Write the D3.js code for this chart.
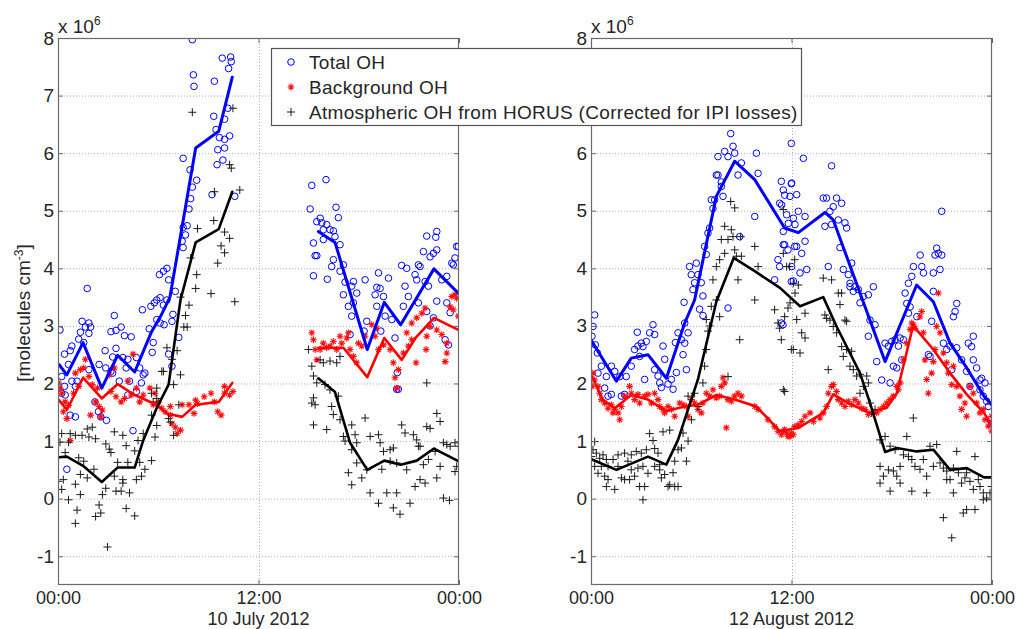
<!DOCTYPE html>
<html>
<head>
<meta charset="utf-8">
<script src="https://cdn.jsdelivr.net/npm/d3@7"></script>
<style>
  html, body { margin: 0; padding: 0; background: #fff; }
  svg { display: block; font-family: "Liberation Sans", Arial, sans-serif; }
</style>
</head>
<body>
<svg id="chart" width="1019" height="629"></svg>
<script>
// ---- Data (hours since local midnight, OH in 10^6 molecules cm^-3) ----

// 10 July 2012
const julyTotalPts = [
  [8.04,7.97],[9.83,7.65],[10.33,7.67],[10.37,7.59],[10.21,7.47],[8.10,7.36],[8.14,7.16],[9.36,7.25],[10.17,6.78],
  [9.32,6.64],[9.97,6.59],[9.46,6.41],[9.66,6.27],[9.97,6.24],[10.27,6.30],[9.56,6.06],[9.87,5.88],[9.52,5.80],[9.97,6.09],
  [9.22,5.28],[10.58,5.25],[7.49,5.91],[7.90,5.71],[8.30,5.53],[8.04,5.41],[7.94,5.21],[7.84,5.03],[7.49,4.71],[7.73,4.74],
  [7.63,4.58],[7.43,4.47],[7.49,4.36],[6.52,4.00],[6.31,3.95],[6.07,3.89],[6.62,3.80],[5.91,3.45],[5.77,3.40],[6.11,3.49],
  [5.56,3.34],[6.52,3.45],[6.31,3.36],[5.05,3.28],[7.02,3.60],[6.88,3.20],[6.82,3.08],[5.91,3.11],[6.11,3.05],[6.35,3.02],
  [5.46,2.95],[5.70,2.71],[5.64,2.54],[6.62,2.51],[6.82,2.30],[7.23,2.80],[1.75,3.65],[3.37,3.18],[1.44,3.08],[1.85,3.05],
  [1.64,2.98],[1.95,2.98],[1.85,2.87],[1.34,2.89],[1.24,2.77],[1.54,2.71],[3.17,2.90],[3.47,2.92],[3.78,2.98],[3.98,2.83],
  [4.38,2.81],[0.12,2.93],[0.83,2.65],[0.73,2.57],[0.39,2.51],[0.22,2.12],[0.63,2.33],[2.82,2.57],[3.47,2.61],[3.27,2.46],
  [3.88,2.45],[4.18,2.42],[4.69,2.45],[4.89,2.27],[5.20,2.18],[5.10,2.15],[4.08,2.27],[4.28,2.04],[3.67,2.04],[3.27,2.18],
  [4.99,2.01],[4.69,1.86],[4.18,1.80],[0.43,1.80],[0.39,1.95],[0.83,2.04],[0.22,1.83],[1.14,2.04],[1.04,1.95],[2.21,1.68],
  [2.42,1.51],[2.90,1.36],[2.56,1.42],[1.04,1.42],[0.73,1.45],[4.49,1.18],[0.53,0.51],[1.85,2.24],[2.46,2.33],[2.86,2.27],
  [3.17,2.21],
  [15.19,5.44],[16.04,5.54],[15.09,5.03],[16.64,5.06],[15.69,4.87],[16.78,4.88],[15.49,4.81],[15.79,4.79],[16.08,4.76],
  [15.88,4.67],[16.28,4.67],[16.48,4.65],[16.58,4.55],[15.29,4.44],[15.88,4.50],[15.39,4.22],[15.49,4.22],[15.29,3.87],
  [16.12,3.81],[16.88,4.41],[16.48,4.15],[16.38,4.03],[17.08,4.06],[16.88,3.95],[17.18,3.76],[17.68,3.77],[17.58,3.69],
  [17.88,3.57],[17.08,3.54],[17.38,3.34],[17.68,3.40],[17.58,3.17],[18.48,3.08],[18.32,2.91],[17.48,2.85],[18.38,3.80],
  [19.08,3.67],[19.28,3.65],[19.18,3.92],[18.98,3.54],[19.48,3.51],[19.78,3.83],[19.08,3.34],[19.58,3.17],[20.17,2.79],
  [19.98,3.11],[19.32,2.91],[20.31,2.19],[20.27,1.90],[20.37,1.90],[20.57,4.05],[20.87,4.00],[20.77,3.69],[20.97,3.51],
  [20.67,3.34],[21.37,3.89],[21.47,3.80],[21.57,4.06],[21.67,4.03],[21.87,4.29],[22.07,4.56],[21.57,3.40],[21.97,3.77],
  [22.27,4.20],[22.47,4.26],[22.61,4.54],[22.67,4.64],[22.67,4.32],[22.17,3.69],[22.07,3.25],[22.47,3.14],[22.67,3.43],
  [22.27,3.00],[22.97,3.80],[23.27,3.86],[23.57,4.09],[23.76,4.18],[23.96,4.38],[23.66,4.06],[23.86,4.38],[23.17,2.76],
  [23.37,2.67],[23.27,3.40],[23.47,3.23]
];
const julyBgPts = [
  [0.12,1.92],[0.22,1.83],[0.02,2.01],[0.43,1.68],[0.63,1.62],[0.32,1.51],[0.53,1.39],[0.73,1.01],[1.04,2.18],[1.34,2.24],
  [1.64,2.42],[1.54,2.27],[1.85,2.12],[1.24,1.95],[0.93,1.83],[2.05,1.98],[2.36,1.92],[2.25,1.68],[2.46,1.60],[2.66,1.54],
  [1.95,1.45],[2.56,1.42],[3.07,2.15],[3.37,2.27],[3.17,1.86],[3.47,1.77],[3.78,1.68],[3.98,1.74],[4.49,2.51],[4.18,2.04],
  [4.69,1.92],[4.38,1.80],[4.89,1.68],[5.10,1.80],[5.50,1.92],[5.81,1.83],[5.70,1.63],[6.01,1.68],[6.21,1.57],[6.41,1.51],
  [6.72,1.45],[7.02,1.24],[6.82,1.30],[7.13,1.13],[7.33,1.19],[6.72,1.60],[7.43,1.63],[7.84,1.63],[8.14,1.48],[8.24,1.71],
  [8.35,1.65],[8.75,1.77],[9.16,1.83],[9.36,1.68],[9.76,1.45],[9.56,1.51],[9.97,1.83],[10.27,1.80],[10.47,1.86],[9.97,1.95],
  [15.19,2.88],[15.29,2.76],[15.39,2.59],[15.49,2.41],[15.69,2.59],[15.88,2.70],[16.08,2.62],[16.28,2.65],[16.48,2.73],
  [16.68,2.59],[16.98,2.70],[17.28,2.79],[17.38,2.88],[16.88,2.82],[17.48,2.59],[17.68,2.47],[17.88,2.36],[18.18,2.65],
  [18.38,2.82],[17.98,2.70],[18.78,3.02],[19.08,2.96],[18.98,2.82],[19.18,2.59],[19.48,2.67],[19.88,2.59],[20.07,2.36],
  [20.17,2.10],[20.27,1.92],[20.37,2.24],[20.67,2.53],[20.97,2.65],[20.87,2.88],[21.17,2.76],[21.43,2.36],[21.17,3.05],
  [21.47,3.14],[21.77,3.22],[21.97,3.31],[22.07,2.82],[22.03,2.59],[22.27,2.99],[22.67,2.93],[22.97,2.85],[23.27,2.53],
  [23.17,2.38],[23.27,2.70],[23.47,3.33],[23.57,3.51],[23.66,3.28],[23.76,3.54],[23.86,3.48],[23.96,3.17]
];
const julyAtmPts = [
  [8.04,6.71],[10.47,6.78],[10.27,5.80],[10.37,5.74],[9.36,5.33],[10.88,5.36],[8.35,4.69],[9.32,4.83],[9.97,4.63],[10.27,4.52],
  [9.76,4.39],[9.97,4.27],[9.56,4.09],[8.30,3.89],[8.24,3.65],[9.16,3.56],[10.58,3.42],[7.94,4.18],[7.84,3.36],[7.63,3.18],
  [7.53,2.98],[7.73,2.98],[7.33,3.50],[7.13,2.57],[6.82,2.42],[6.31,2.21],[6.52,2.62],[7.33,2.15],[6.92,1.98],[5.91,1.92],
  [5.60,1.83],[5.70,1.68],[5.60,1.45],[5.91,1.27],[5.81,1.07],[5.10,1.13],[4.79,1.01],[4.59,0.83],[4.89,0.63],[5.20,0.51],
  [4.69,0.33],[5.00,0.39],[5.60,0.66],[3.88,1.10],[4.08,0.92],[4.18,0.63],[3.88,0.33],[4.28,0.10],[4.08,-0.17],[4.59,-0.30],
  [3.37,1.16],[3.07,0.86],[2.86,0.95],[3.17,0.80],[3.57,0.63],[3.37,0.39],[3.47,0.13],[3.78,0.13],[3.88,0.27],[2.86,0.18],
  [2.66,0.07],[2.46,-0.11],[2.25,-0.31],[2.56,-0.25],[2.96,-0.84],[2.05,1.24],[1.75,1.21],[1.85,1.07],[1.44,1.10],[2.25,1.04],
  [2.15,0.51],[1.04,1.10],[0.73,1.13],[0.63,0.98],[0.12,0.98],[0.22,1.13],[0.43,0.80],[1.24,0.71],[1.54,0.65],[1.75,0.36],
  [1.34,0.42],[1.04,0.25],[0.32,0.33],[0.02,0.30],[0.22,0.16],[0.63,-0.02],[1.14,-0.20],[1.04,-0.43],[1.34,0.07],[6.21,2.21],
  [5.91,1.74],[6.62,1.39],[6.72,1.33],[6.92,1.10],[7.23,1.63],
  [14.99,2.59],[15.19,2.30],[15.69,2.41],[15.29,2.13],[15.88,2.36],[15.49,2.01],[16.28,2.39],[16.68,2.36],[16.88,2.47],
  [15.29,1.75],[15.19,1.66],[15.39,1.63],[15.98,1.98],[16.28,1.89],[15.29,1.28],[16.08,1.20],[16.38,1.60],[16.48,1.46],
  [16.78,1.78],[16.88,1.37],[17.08,1.08],[17.18,1.00],[17.58,1.28],[17.78,1.11],[17.58,0.85],[17.88,0.97],[17.38,0.45],
  [17.58,0.24],[17.88,0.62],[18.18,0.36],[18.48,0.50],[18.68,0.10],[18.38,1.40],[18.68,1.08],[19.18,1.11],[19.28,0.97],
  [19.48,0.82],[19.88,0.85],[20.07,0.88],[19.88,0.65],[20.27,0.62],[19.38,0.51],[19.18,-0.08],[19.68,0.10],[20.07,-0.16],
  [20.27,0.10],[20.47,-0.27],[20.57,1.28],[20.77,1.14],[21.27,1.11],[21.47,1.02],[21.57,0.91],[20.87,0.50],[21.07,-0.08],
  [21.37,0.21],[21.67,0.33],[21.97,0.27],[21.87,0.59],[22.07,1.25],[22.27,1.22],[22.67,1.48],[22.87,1.34],[22.07,2.01],
  [21.67,0.91],[22.17,0.68],[22.57,0.82],[22.87,0.56],[23.07,0.97],[23.27,0.94],[23.47,0.91],[23.76,0.97],[23.96,0.91],
  [22.67,0.36],[23.07,0.01],[23.43,-0.03],[23.76,0.47],[23.86,0.56]
];
// hourly means; null marks the data gap
const julyTotalLine = [
  [0.06,2.33],[0.53,2.15],[1.5,2.71],[2.62,1.92],[3.57,2.49],[4.59,2.20],[5.6,2.9],[6.2,3.2],[6.7,3.5],[8.24,6.09],
  [9.62,6.38],[10.43,7.32],null,
  [15.58,4.64],[16.58,4.45],[18.51,2.59],[19.53,3.41],[20.51,3.02],[22.5,3.99],[23.96,3.57]
];
const julyBgLine = [
  [0.06,1.71],[0.53,1.54],[1.5,2.10],[2.62,1.74],[3.57,1.99],[4.59,1.80],[5.9,1.63],[6.52,1.48],[7.43,1.42],[8.24,1.63],
  [9.62,1.68],[10.43,2.01],null,
  [15.58,2.62],[17.08,2.62],[18.51,2.11],[19.53,2.79],[20.57,2.41],[21.4,2.79],[22.5,3.14],[23.96,2.93]
];
const julyAtmLine = [
  [0.06,0.72],[0.53,0.73],[1.5,0.57],[2.62,0.29],[3.57,0.54],[4.59,0.54],[5.1,1.01],[5.9,1.57],[6.62,1.98],[7.33,3.45],
  [8.24,4.45],[9.62,4.68],[10.43,5.33],null,
  [15.58,2.09],[16.58,1.85],[17.48,0.97],[18.51,0.50],[19.53,0.66],[20.51,0.59],[21.47,0.66],[22.5,0.87],[23.96,0.65]
];

// 12 August 2012
const augTotalPts = [
  [0.22,3.19],[0.12,2.99],[0.06,2.82],[0.26,2.67],[0.38,2.53],[0.62,2.30],[0.42,2.18],[0.82,1.92],[1.02,1.78],[1.22,1.81],
  [0.92,2.12],[1.22,2.30],[1.42,2.21],[1.72,2.12],[1.82,1.78],[2.01,1.81],[2.11,2.12],[2.41,2.30],[2.61,2.59],[2.81,2.65],
  [3.01,2.70],[2.77,2.89],[3.11,2.64],[3.31,2.73],[3.51,2.88],[3.71,3.02],[3.81,2.85],[3.21,2.07],[2.91,2.47],[3.81,2.24],
  [4.01,2.13],[4.11,2.01],[4.31,2.65],[4.41,2.42],[4.21,1.93],[4.61,1.99],[4.81,2.07],[4.91,1.90],[5.11,2.19],[5.05,2.71],
  [5.21,2.88],[5.41,2.76],[5.61,2.70],[5.81,2.88],[5.71,2.24],[5.51,2.50],[5.61,3.05],[5.57,3.41],[5.90,4.03],[6.10,3.63],
  [6.00,3.89],[6.20,3.75],[6.30,4.09],[6.40,3.89],[6.60,3.75],[6.70,3.52],[6.50,3.29],[6.70,3.18],[6.90,4.24],[6.80,4.38],
  [7.00,4.61],[7.10,4.70],[7.20,5.19],[7.30,5.04],[7.40,5.19],[7.50,5.62],[7.60,5.62],[7.80,5.50],[7.80,5.42],[7.90,5.25],
  [8.20,3.31],[7.60,5.94],[8.00,6.03],[8.20,5.94],[8.36,6.34],[8.50,6.12],[8.60,6.00],[8.80,5.62],[9.00,5.83],[8.90,4.55],
  [9.80,4.90],[10.00,5.65],[9.90,6.00],[11.39,5.51],[11.29,5.13],[11.59,5.27],[11.99,5.47],[11.99,6.17],[11.49,3.02],
  [10.99,3.80],[11.19,4.15],[11.29,4.03],[11.59,4.41],[11.79,4.32],[11.99,3.77],[12.19,4.38],[11.39,3.05],
  [12.71,5.91],[14.40,5.78],[12.01,5.48],[11.51,5.36],[11.91,5.25],[12.31,5.28],[11.41,5.10],[12.41,4.99],[12.81,4.90],
  [11.71,4.93],[12.11,4.87],[11.81,4.78],[12.21,4.76],[11.51,4.64],[12.81,4.47],[11.51,4.41],[12.31,4.38],[12.61,4.26],
  [12.91,3.98],[12.51,3.92],[12.11,3.78],[12.01,4.03],
  [13.90,5.22],[14.10,5.22],[14.70,5.22],[15.00,5.13],[14.50,5.07],[14.30,4.99],[14.80,4.84],[14.00,4.73],[14.40,4.76],
  [15.20,4.79],[15.30,4.70],[14.90,4.36],[14.20,4.03],[15.10,3.98],[15.40,3.89],[15.60,4.09],[15.50,3.74],[15.70,3.60],
  [15.50,3.68],[15.80,3.68],[16.00,3.63],[16.10,3.40],[16.30,3.51],[16.60,3.54],[16.90,3.68],[16.70,3.10],[17.00,3.02],
  [16.60,2.82],[17.10,2.38],[17.40,2.06],[17.90,2.01],[17.60,2.70],[17.80,2.65],[18.00,2.73],[18.20,2.76],[18.40,2.65],
  [18.50,2.79],[18.10,2.30],[18.30,2.27],[18.70,2.76],[18.60,2.41],[18.80,3.57],[19.00,3.74],[19.20,3.86],[19.30,4.03],
  [18.90,3.39],[19.10,3.33],[19.00,3.22],[19.50,3.16],[19.70,4.23],[19.80,4.03],[19.90,3.92],[20.49,3.92],[20.59,4.23],
  [20.69,4.35],[20.79,4.26],[20.89,3.98],[20.99,4.23],[20.49,3.60],[20.39,3.08],[20.29,2.47],[20.19,2.50],[21.09,2.70],
  [21.29,2.59],[21.49,2.65],[21.59,2.24],[21.69,3.16],[21.79,3.25],[21.89,3.39],[21.89,2.62],[20.99,4.99],[22.18,2.41],
  [22.48,2.21],[22.58,2.70],[22.78,2.64],[22.88,2.82],[22.68,1.95],[23.08,2.27],[23.28,2.06],[23.38,2.09],[23.58,2.01],
  [23.48,1.78],[23.68,1.69],[23.78,1.60],[23.88,1.37],[23.98,1.31],[22.88,2.41],[23.28,1.89]
];
const augBgPts = [
  [0.12,2.18],[0.22,2.06],[0.06,1.95],[0.42,1.95],[0.52,1.83],[0.62,1.72],[0.82,1.66],[1.02,1.57],[1.22,1.63],[1.42,1.55],
  [1.62,1.49],[1.72,1.37],[1.32,1.49],[1.82,1.60],[2.01,1.78],[2.31,1.95],[2.41,1.83],[2.61,1.72],[2.81,1.81],[2.91,1.66],
  [3.21,1.78],[3.41,1.81],[3.61,1.66],[3.81,1.83],[4.01,1.72],[4.11,1.60],[4.31,1.55],[4.41,1.49],[4.61,1.60],[4.81,1.55],
  [5.01,1.43],[5.31,1.66],[5.51,1.63],[5.71,1.60],[5.81,1.43],[6.01,1.72],[6.20,1.66],[6.40,1.55],[6.60,1.49],[6.70,1.66],
  [6.90,1.83],[7.10,1.78],[7.30,1.89],[7.50,1.75],[7.70,1.78],[7.80,1.95],[7.90,2.10],[8.00,2.01],[8.20,1.72],[8.10,1.23],
  [8.40,1.69],[8.60,1.78],[8.80,1.83],[9.00,1.78],[9.80,1.60],[10.00,1.55],[10.59,1.37],[10.99,1.25],[11.19,1.17],
  [11.39,1.11],[11.59,1.20],[11.79,1.08],[11.99,1.14],[12.19,1.25],[12.39,1.28],
  [11.51,1.17],[11.71,1.14],[11.91,1.08],[12.11,1.11],[12.41,1.26],[12.61,1.34],[12.81,1.43],[13.11,1.49],[13.31,1.34],
  [13.70,1.40],[13.90,1.49],[14.10,1.60],[14.20,1.83],[14.40,1.95],[14.50,1.98],[14.70,1.86],[14.80,1.72],[15.00,1.66],
  [15.20,1.60],[15.40,1.69],[15.60,1.63],[15.80,1.72],[16.00,1.66],[16.20,1.57],[16.40,1.55],[16.60,1.46],[16.80,1.49],
  [17.10,1.49],[17.30,1.55],[17.50,1.60],[17.70,1.66],[17.90,1.72],[18.10,1.78],[18.30,1.95],[18.40,1.89],[18.50,2.01],
  [18.70,2.41],[18.90,2.70],[19.10,2.94],[19.20,3.05],[19.29,3.02],[19.39,2.96],[19.69,3.16],[19.79,3.25],[19.89,2.88],
  [19.99,2.41],[20.09,2.07],[20.19,1.83],[20.39,2.18],[20.49,2.38],[20.59,2.59],[20.69,2.99],[20.79,3.57],[20.89,2.88],
  [21.09,2.53],[21.29,2.36],[21.39,2.18],[21.59,1.98],[21.69,2.30],[21.89,1.95],[22.08,1.78],[22.18,1.55],[22.38,1.66],
  [22.48,1.43],[22.68,1.95],[22.88,1.83],[23.08,1.66],[23.28,1.49],[23.48,1.55],[23.58,1.37],[23.78,1.26],[23.98,1.17],
  [23.98,1.43]
];
const augAtmPts = [
  [0.12,0.85],[0.22,0.99],[0.32,0.79],[0.02,0.73],[0.52,0.70],[0.72,0.76],[0.92,0.68],[0.62,0.56],[1.02,0.56],[1.32,0.68],
  [1.62,0.76],[2.01,0.79],[2.21,0.65],[2.41,0.76],[2.71,0.82],[3.01,0.79],[3.31,0.85],[3.51,1.13],[3.71,1.01],[3.81,0.87],
  [0.22,0.56],[0.42,0.44],[0.82,0.39],[0.92,0.21],[1.42,0.16],[1.02,0.33],[1.82,0.36],[2.01,0.33],[2.31,0.33],[1.62,0.56],
  [2.41,0.50],[2.81,0.53],[2.61,0.39],[3.11,0.56],[2.91,0.21],[3.21,0.21],[3.11,-0.02],[3.41,0.44],[3.81,0.56],[4.01,0.79],
  [4.11,0.50],[4.21,0.36],[4.41,0.42],[4.61,0.21],[4.71,0.24],[5.01,0.21],[5.21,0.21],[4.11,0.59],[4.31,1.16],[4.71,1.19],
  [5.21,0.85],[4.91,0.45],[5.01,0.65],[5.71,0.65],[5.81,1.00],[5.51,1.14],[5.41,0.88],[6.01,1.37],[5.81,1.78],[6.20,1.83],
  [6.40,1.60],[6.70,2.01],[6.80,2.30],[6.90,2.59],[7.00,2.91],[7.10,3.00],[6.90,3.11],[7.20,3.34],[7.30,3.80],[7.50,3.45],
  [7.70,3.16],[7.50,4.03],[7.70,4.15],[7.80,4.50],[8.00,4.73],[8.20,2.12],[8.00,4.26],[8.20,4.50],[8.36,5.16],[8.60,5.05],
  [8.40,4.67],[8.50,4.55],[8.60,4.32],[8.70,4.21],[8.80,3.80],[8.96,4.55],[9.00,4.21],[9.80,4.38],[10.00,4.03],[9.80,3.45],
  [8.90,2.76],[10.99,3.28],[11.19,3.05],[11.29,2.96],[11.39,2.76],[11.59,3.16],[11.79,3.31],[11.99,2.59],[11.59,1.86],
  [11.89,4.03],[12.19,4.15],
  [11.51,5.02],[11.51,4.26],[11.71,4.03],[12.11,3.74],[12.41,3.71],[12.21,3.57],[11.91,3.40],[12.31,3.11],[12.11,2.59],
  [12.51,2.53],[12.61,2.88],[12.81,2.79],[11.51,1.89],[12.81,3.22],[13.90,3.83],[14.40,3.80],[14.20,2.24],[14.00,3.19],
  [14.10,3.13],[14.30,3.10],[14.50,2.99],[14.70,2.88],[14.80,3.57],[15.00,3.57],[14.90,3.37],[15.20,3.10],[15.30,3.08],
  [15.00,2.64],[15.10,2.47],[15.30,2.59],[15.60,2.56],[15.50,2.30],[15.70,2.24],[15.90,2.13],[16.10,2.16],[16.30,1.95],
  [16.10,1.83],[16.50,2.13],[16.60,2.01],[16.70,1.66],[16.80,1.49],[17.00,1.55],[17.30,1.02],[17.60,1.08],[17.90,0.91],
  [18.20,0.85],[17.30,0.56],[17.50,0.39],[17.80,0.50],[18.10,0.48],[18.30,0.39],[18.50,0.56],[18.70,0.76],[18.90,1.08],
  [19.00,0.73],[19.20,0.68],[19.29,1.40],[19.39,0.56],[19.69,0.51],[19.89,0.68],[20.09,0.39],[20.29,0.91],[20.49,0.56],
  [20.69,0.94],[20.89,0.62],[21.09,0.53],[21.29,0.48],[21.49,0.33],[21.69,0.53],[21.89,0.82],[21.99,0.45],[22.18,0.27],
  [22.38,0.36],[22.48,0.45],[22.68,0.30],[22.88,0.16],[22.98,0.73],[23.18,0.33],[23.28,0.21],[23.48,0.10],[23.68,0.01],
  [23.88,0.10],[23.98,-0.02],[23.98,0.21],[17.30,0.27],[17.90,0.13],[18.50,0.27],[19.20,0.13],[20.09,0.10],[21.29,0.33],
  [21.69,0.10],[22.28,-0.25],[22.48,-0.19],[22.98,-0.19],[21.09,-0.33],[21.59,-0.68],[23.48,-0.02]
];
const augTotalLine = [
  [0.06,2.73],[1.52,2.04],[2.41,2.44],[3.41,2.50],[4.51,2.09],[5.61,3.05],[6.2,3.45],[7.5,5.25],[8.6,5.86],[9.8,5.54],
  [11.59,4.70],[12.41,4.62],[14.0,4.97],[14.5,4.84],[17.6,2.38],[19.49,3.71],[20.49,3.42],[21.49,2.70],[22.49,2.27],
  [23.52,1.78],[23.97,1.63]
];
const augBgLine = [
  [0.06,2.12],[0.7,1.72],[1.42,1.57],[2.41,1.80],[3.41,1.72],[4.51,1.52],[5.61,1.60],[6.4,1.63],[7.5,1.80],[8.6,1.72],
  [9.9,1.60],[11.3,1.17],[12.41,1.23],[13.9,1.49],[14.5,1.81],[15.6,1.63],[16.7,1.49],[17.7,1.58],[18.3,1.83],[19.29,3.02],
  [19.49,2.93],[20.49,2.59],[21.49,2.18],[22.49,1.81],[23.52,1.49],[23.97,1.28]
];
const augAtmLine = [
  [0.06,0.68],[1.52,0.50],[3.41,0.73],[4.51,0.59],[5.21,1.02],[6.4,2.07],[7.5,3.42],[8.54,4.18],[9.8,3.95],[11.31,3.66],
  [12.51,3.34],[13.9,3.50],[14.7,2.99],[16.1,2.18],[16.7,1.66],[17.6,0.81],[18.3,0.88],[19.49,0.82],[20.49,0.85],
  [21.49,0.50],[22.49,0.53],[23.52,0.37],[23.97,0.37]
];

// axis ticks and labels
const yTicks = [-1, 0, 1, 2, 3, 4, 5, 6, 7, 8];
const xTicks = [0, 12, 24];
const xTickLabels = ["00:00", "12:00", "00:00"];
const dayLabels = ["10 July 2012", "12 August 2012"];
const legendLabels = ["Total OH", "Background OH", "Atmospheric OH from HORUS (Corrected for IPI losses)"];
const yAxisLabel = "molecules cm";

// ---- Drawing ----
const svg = d3.select("#chart");
const FONT = "19px";
const XFONT = "18px";
const axisColor = "#6a6a6a";
const textColor = "#262626";

const y = d3.scaleLinear().domain([-1.5, 8]).range([585, 38]);

// legend box area; tick labels that fall under it are left out
const legendBox = { x: 271.5, y: 48.5, w: 530, h: 77 };

const panels = [
  { x0: 58,  x1: 459, day: dayLabels[0], total: julyTotalPts, bg: julyBgPts, atm: julyAtmPts,
    totalLine: julyTotalLine, bgLine: julyBgLine, atmLine: julyAtmLine },
  { x0: 591, x1: 992, day: dayLabels[1], total: augTotalPts, bg: augBgPts, atm: augAtmPts,
    totalLine: augTotalLine, bgLine: augBgLine, atmLine: augAtmLine }
];

const starPath = "M-3.4,0H3.4M0,-3.4V3.4M-2.4,-2.4L2.4,2.4M-2.4,2.4L2.4,-2.4";
const plusPath = "M-4,0H4M0,-4V4";

panels.forEach(p => {
  const x = d3.scaleLinear().domain([0, 24]).range([p.x0, p.x1]);
  const g = svg.append("g");
  const w = p.x1 - p.x0;

  const clipId = "clip" + p.x0;
  svg.append("clipPath").attr("id", clipId)
    .append("rect").attr("x", p.x0).attr("y", 38).attr("width", w).attr("height", 585 - 38);

  // dotted grid
  g.append("g").selectAll("line").data(yTicks.filter(t => t < 8)).join("line")
    .attr("x1", p.x0).attr("x2", p.x1).attr("y1", d => y(d) + 0.5).attr("y2", d => y(d) + 0.5)
    .attr("stroke", "#b0b0b0").attr("stroke-width", 1).attr("stroke-dasharray", "1,2");
  g.append("line")
    .attr("x1", Math.round(x(12)) + 0.5).attr("x2", Math.round(x(12)) + 0.5).attr("y1", 38).attr("y2", 585)
    .attr("stroke", "#b0b0b0").attr("stroke-width", 1).attr("stroke-dasharray", "1,2");

  const plot = g.append("g").attr("clip-path", `url(#${clipId})`);

  // scatter markers
  plot.append("g").selectAll("circle").data(p.total).join("circle")
    .attr("cx", d => x(d[0])).attr("cy", d => y(d[1])).attr("r", 3.3)
    .attr("fill", "none").attr("stroke", "#0000ff").attr("stroke-width", 1);
  plot.append("g").selectAll("path").data(p.bg).join("path")
    .attr("transform", d => `translate(${x(d[0])},${y(d[1])})`).attr("d", starPath)
    .attr("stroke", "#ff1010").attr("stroke-width", 1.1).attr("fill", "none");
  plot.append("g").selectAll("path").data(p.atm).join("path")
    .attr("transform", d => `translate(${x(d[0])},${y(d[1])})`).attr("d", plusPath)
    .attr("stroke", "#1a1a1a").attr("stroke-width", 1).attr("fill", "none");

  // hourly-mean lines
  const line = d3.line().defined(d => d !== null).x(d => x(d[0])).y(d => y(d[1]));
  [[p.totalLine, "#0000ff", 3], [p.bgLine, "#ff0000", 2.6], [p.atmLine, "#000000", 2.6]].forEach(([data, c, sw]) => {
    plot.append("path").datum(data).attr("d", line)
      .attr("fill", "none").attr("stroke", c).attr("stroke-width", sw)
      .attr("stroke-linejoin", "round").attr("stroke-linecap", "round");
  });

  // y tick labels hidden by the legend are not drawn
  const hidden = t => p.x0 > legendBox.x && p.x0 - 20 < legendBox.x + legendBox.w &&
    y(t) > legendBox.y && y(t) < legendBox.y + legendBox.h;

  // axes (inward ticks on all four sides)
  const left = g.append("g").attr("transform", `translate(${p.x0},0)`)
    .call(d3.axisLeft(y).tickValues(yTicks).tickSize(-5).tickPadding(4)
      .tickFormat(d => hidden(d) ? "" : String(d)));
  const right = g.append("g").attr("transform", `translate(${p.x1},0)`)
    .call(d3.axisRight(y).tickValues(yTicks).tickSize(-5).tickFormat(""));
  const bottom = g.append("g").attr("transform", "translate(0,585)")
    .call(d3.axisBottom(x).tickValues(xTicks).tickSize(-5).tickPadding(6).tickFormat((d, i) => xTickLabels[i]));
  const top = g.append("g").attr("transform", "translate(0,38)")
    .call(d3.axisTop(x).tickValues(xTicks).tickSize(-5).tickFormat(""));
  [left, right, bottom, top].forEach(a => {
    a.select(".domain").remove();
    a.selectAll("line").attr("stroke", axisColor);
    a.selectAll("text").filter(function () { return this.textContent === ""; }).remove();
    a.selectAll("text").attr("fill", textColor).style("font-size", FONT)
      .style("font-family", '"Liberation Sans", Arial, sans-serif');
  });
  bottom.selectAll("text").style("font-size", XFONT);
  g.append("rect").attr("x", p.x0 + 0.5).attr("y", 38.5).attr("width", w - 1).attr("height", 585 - 38 - 1)
    .attr("fill", "none").attr("stroke", axisColor).attr("stroke-width", 1.2);

  // date label
  g.append("text").attr("x", x(12)).attr("y", 624.5).attr("text-anchor", "middle")
    .attr("fill", textColor).style("font-size", XFONT).text(p.day);

  // exponent label
  const ex = g.append("text").attr("x", p.x0).attr("y", 33).attr("fill", textColor).style("font-size", FONT);
  ex.append("tspan").text("x 10");
  ex.append("tspan").attr("dy", -8).style("font-size", "12px").text("6");
});

// y axis title
const yl = svg.append("text").attr("transform", "translate(30,313) rotate(-90)")
  .attr("text-anchor", "middle").attr("fill", textColor).style("font-size", FONT);
yl.append("tspan").text("[" + yAxisLabel);
yl.append("tspan").attr("dy", -7).style("font-size", "12px").text("-3");
yl.append("tspan").attr("dy", 7).text("]");

// legend
const lg = svg.append("g");
lg.append("rect").attr("x", legendBox.x).attr("y", legendBox.y).attr("width", legendBox.w).attr("height", legendBox.h)
  .attr("fill", "#fff").attr("stroke", "#555").attr("stroke-width", 1.2);
const rows = [62, 87, 112];
const mx = 291;
lg.append("circle").attr("cx", mx).attr("cy", rows[0]).attr("r", 3.3)
  .attr("fill", "none").attr("stroke", "#0000ff").attr("stroke-width", 1);
lg.append("path").attr("transform", `translate(${mx},${rows[1]})`).attr("d", starPath)
  .attr("stroke", "#ff1010").attr("stroke-width", 1.1);
lg.append("path").attr("transform", `translate(${mx},${rows[2]})`).attr("d", plusPath)
  .attr("stroke", "#1a1a1a").attr("stroke-width", 1);
lg.selectAll("text.lab").data(legendLabels).join("text").attr("class", "lab")
  .attr("x", 309).attr("y", (d, i) => rows[i] + 6.5)
  .attr("fill", textColor).style("font-size", FONT).style("letter-spacing", "0.3px").text(d => d);
</script>
</body>
</html>
